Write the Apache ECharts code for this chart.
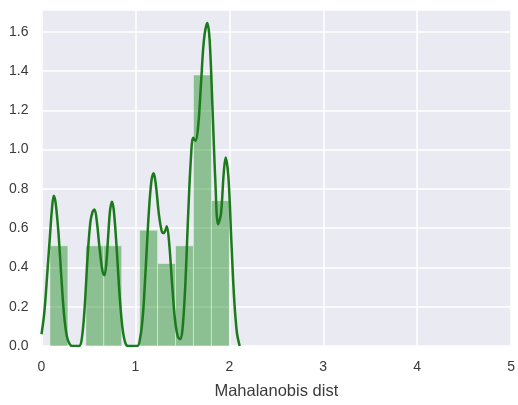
<!DOCTYPE html>
<html>
<head>
<meta charset="utf-8">
<script src="https://cdn.jsdelivr.net/npm/echarts@6/dist/echarts.min.js"></script>
<style>
html,body{margin:0;padding:0;background:#fff;overflow:hidden;}
#chart{width:518px;height:405px;}
</style>
</head>
<body>
<div id="chart"></div>
<script>
// Histogram bins (Mahalanobis distance), density heights
const binStarts = [0.09, 0.281, 0.472, 0.663, 0.854, 1.045, 1.236, 1.427, 1.618, 1.809];
const binEnds   = [0.281, 0.472, 0.663, 0.854, 1.045, 1.236, 1.427, 1.618, 1.809, 2.0];
const binHeights = [0.51, 0, 0.51, 0.51, 0, 0.59, 0.42, 0.51, 1.38, 0.74];

// KDE curve
const kdeX = [0.0, 0.03, 0.06, 0.09, 0.11, 0.13, 0.15, 0.18, 0.21, 0.24, 0.27, 0.30, 0.33, 0.40, 0.43, 0.46, 0.49, 0.52, 0.545, 0.565, 0.59, 0.62, 0.65, 0.67, 0.69, 0.71, 0.73, 0.75, 0.77, 0.80, 0.83, 0.86, 0.89, 0.92, 1.02, 1.05, 1.08, 1.11, 1.14, 1.17, 1.195, 1.22, 1.25, 1.28, 1.30, 1.32, 1.335, 1.36, 1.39, 1.42, 1.45, 1.475, 1.50, 1.53, 1.56, 1.59, 1.615, 1.64, 1.67, 1.70, 1.73, 1.765, 1.79, 1.82, 1.85, 1.88, 1.91, 1.94, 1.96, 1.99, 2.02, 2.05, 2.08, 2.11];
const kdeY = [0.06, 0.17, 0.36, 0.56, 0.69, 0.765, 0.73, 0.58, 0.36, 0.16, 0.05, 0.01, 0.0, 0.0, 0.04, 0.20, 0.45, 0.63, 0.685, 0.695, 0.63, 0.49, 0.38, 0.36, 0.42, 0.56, 0.69, 0.735, 0.69, 0.50, 0.27, 0.10, 0.02, 0.0, 0.0, 0.04, 0.16, 0.40, 0.66, 0.84, 0.88, 0.81, 0.67, 0.585, 0.575, 0.59, 0.61, 0.52, 0.32, 0.14, 0.05, 0.035, 0.08, 0.30, 0.65, 0.95, 1.06, 1.045, 1.13, 1.35, 1.56, 1.645, 1.56, 1.22, 0.85, 0.62, 0.67, 0.88, 0.96, 0.86, 0.55, 0.25, 0.07, 0.0];

const xTicks = [0, 1, 2, 3, 4, 5];
const yTicks = [0, 0.2, 0.4, 0.6, 0.8, 1.0, 1.2, 1.4, 1.6];
const xLabel = 'Mahalanobis dist';

const histData = binStarts.map((s, i) => [s, binEnds[i], binHeights[i]]);
const kdeData = kdeX.map((x, i) => [x, kdeY[i]]);

const chart = echarts.init(document.getElementById('chart'), null, {renderer: 'canvas'});
const font = 'Liberation Sans, Arial, sans-serif';
chart.setOption({
  animation: false,
  grid: {left: 41.5, right: 0.5, top: 10, bottom: 55, show: true, backgroundColor: '#EAEAF2', borderWidth: 0, containLabel: false},
  xAxis: {
    type: 'value', min: xTicks[0], max: xTicks[xTicks.length - 1], interval: 1,
    axisLine: {show: false}, axisTick: {show: false},
    axisLabel: {color: '#3a3a3a', fontSize: 14, fontFamily: font, margin: 14},
    splitLine: {show: true, lineStyle: {color: '#ffffff', width: 1.5}},
    name: xLabel, nameLocation: 'middle', nameGap: 37,
    nameTextStyle: {color: '#3a3a3a', fontSize: 16.5, fontFamily: font}
  },
  yAxis: {
    type: 'value', min: 0, max: 1.711, interval: 0.2,
    axisLine: {show: false}, axisTick: {show: false},
    axisLabel: {color: '#3a3a3a', fontSize: 14, fontFamily: font, margin: 13, showMaxLabel: false,
      formatter: v => v.toFixed(1)},
    splitLine: {show: true, lineStyle: {color: '#ffffff', width: 1.5}}
  },
  series: [
    {
      type: 'custom',
      data: histData,
      encode: {x: [0, 1], y: 2},
      renderItem: function (params, api) {
        const p0 = api.coord([api.value(0), 0]);
        const p1 = api.coord([api.value(1), api.value(2)]);
        return {
          type: 'rect',
          shape: {x: p0[0], y: p1[1], width: p1[0] - p0[0], height: p0[1] - p1[1]},
          style: {fill: 'rgba(0,128,0,0.4)', stroke: 'rgba(255,255,255,0.5)', lineWidth: 0.8}
        };
      },
      z: 2
    },
    {
      type: 'line',
      data: kdeData,
      smooth: 0.35,
      showSymbol: false,
      lineStyle: {color: '#1b7a1b', width: 2.5},
      z: 3
    }
  ]
});
</script>
</body>
</html>
